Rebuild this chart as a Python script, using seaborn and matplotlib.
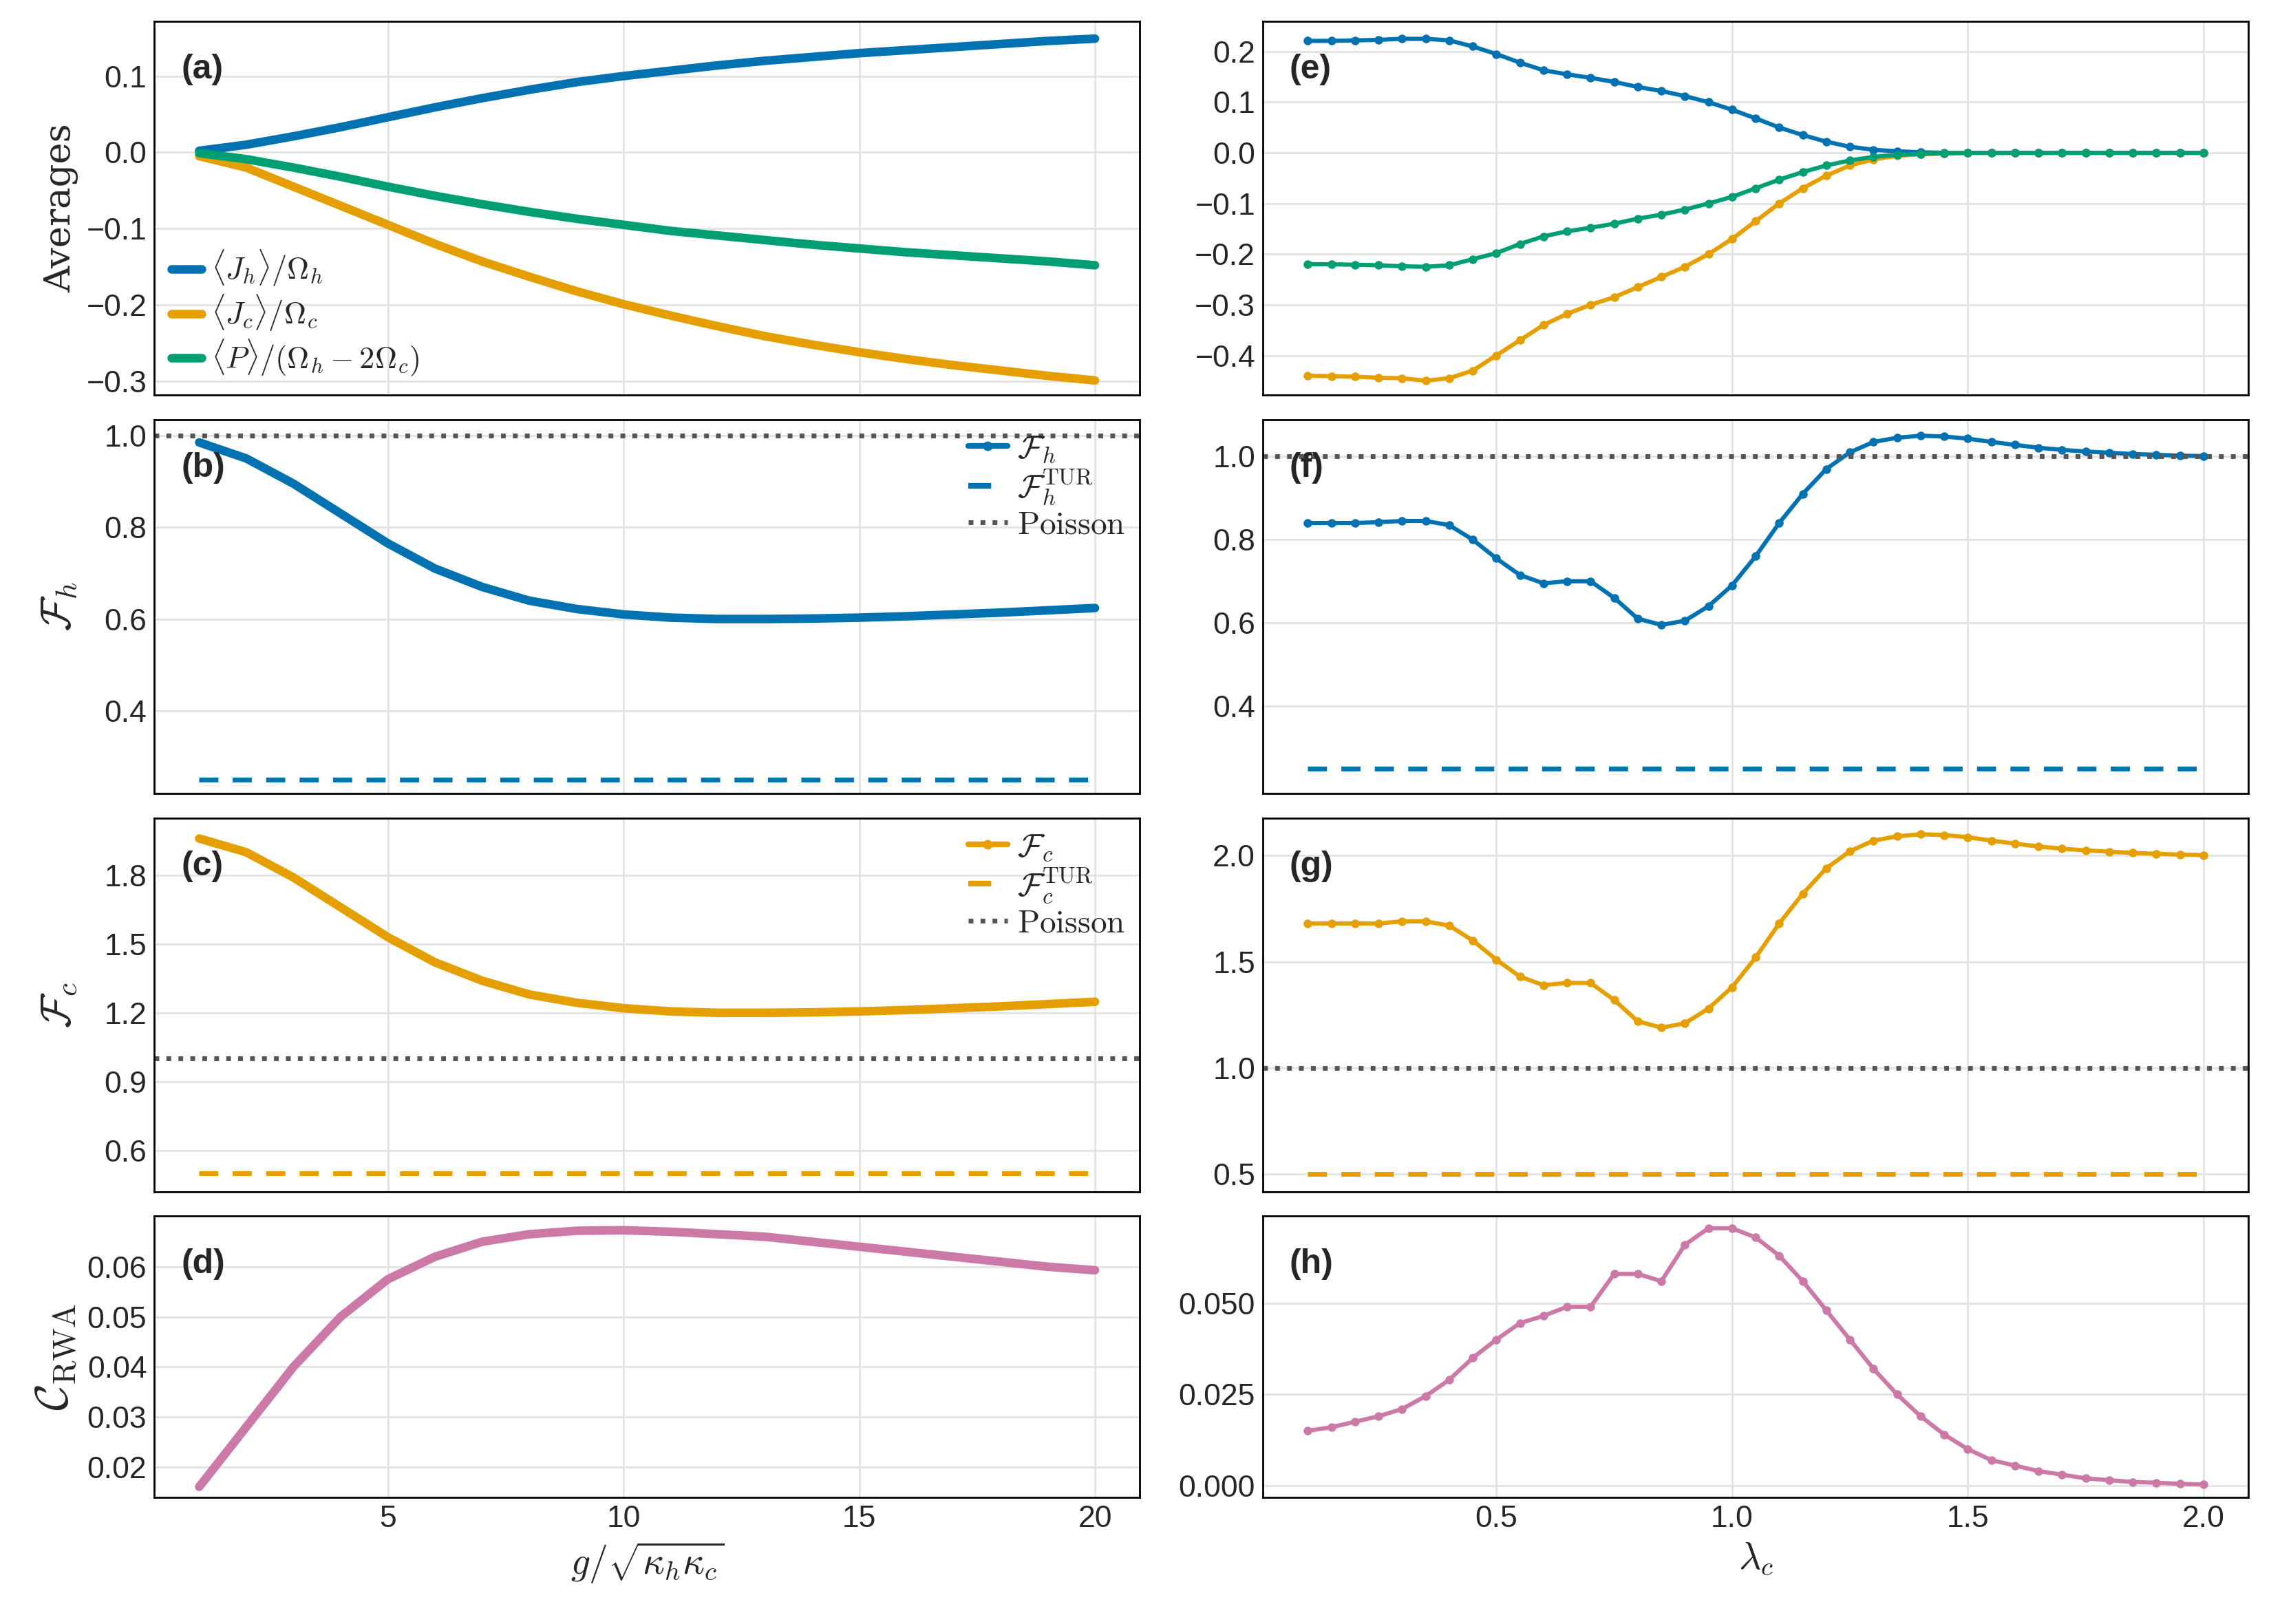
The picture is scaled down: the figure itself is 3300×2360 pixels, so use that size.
import numpy as np
import pandas as pd
import matplotlib
matplotlib.use("Agg")
import matplotlib.pyplot as plt
from matplotlib.lines import Line2D
import seaborn as sns

# left column: coupling g/sqrt(kh kc)
g_vals = list(range(1, 21))
jh_avg = [0.002, 0.010, 0.021, 0.033, 0.046, 0.059, 0.071, 0.082, 0.092, 0.100,
          0.107, 0.114, 0.120, 0.125, 0.130, 0.134, 0.138, 0.142, 0.146, 0.149]
jc_avg = [-0.005, -0.020, -0.045, -0.070, -0.095, -0.120, -0.143, -0.163, -0.182, -0.199,
          -0.214, -0.228, -0.241, -0.252, -0.262, -0.271, -0.279, -0.286, -0.293, -0.299]
p_avg = [-0.001, -0.009, -0.020, -0.032, -0.045, -0.057, -0.068, -0.078, -0.087, -0.095,
         -0.103, -0.109, -0.115, -0.121, -0.126, -0.131, -0.135, -0.139, -0.143, -0.148]
fano_h_g = [0.985, 0.950, 0.895, 0.830, 0.765, 0.710, 0.670, 0.640, 0.622, 0.610,
            0.603, 0.600, 0.600, 0.601, 0.603, 0.606, 0.610, 0.614, 0.619, 0.624]
fano_c_g = [1.960, 1.900, 1.790, 1.660, 1.530, 1.420, 1.340, 1.280, 1.244, 1.220,
            1.206, 1.200, 1.200, 1.202, 1.206, 1.212, 1.220, 1.228, 1.238, 1.248]
coh_g = [0.0160, 0.0280, 0.0400, 0.0500, 0.0575, 0.0620, 0.0650, 0.0665, 0.0672, 0.0673,
         0.0670, 0.0665, 0.0660, 0.0650, 0.0640, 0.0630, 0.0620, 0.0610, 0.0600, 0.0593]

# right column: lambda_c
lam = [0.10, 0.15, 0.20, 0.25, 0.30, 0.35, 0.40, 0.45, 0.50, 0.55, 0.60, 0.65, 0.70,
       0.75, 0.80, 0.85, 0.90, 0.95, 1.00, 1.05, 1.10, 1.15, 1.20, 1.25, 1.30, 1.35,
       1.40, 1.45, 1.50, 1.55, 1.60, 1.65, 1.70, 1.75, 1.80, 1.85, 1.90, 1.95, 2.00]
jh_lam = [0.221, 0.221, 0.222, 0.223, 0.225, 0.225, 0.222, 0.210, 0.195, 0.178, 0.163, 0.155, 0.148,
          0.140, 0.130, 0.122, 0.112, 0.100, 0.085, 0.068, 0.050, 0.035, 0.022, 0.012, 0.006, 0.003,
          0.001, 0.0, 0.0, 0.0, 0.0, 0.0, 0.0, 0.0, 0.0, 0.0, 0.0, 0.0, 0.0]
jc_lam = [-0.440, -0.441, -0.442, -0.444, -0.445, -0.450, -0.445, -0.430, -0.400, -0.370, -0.340, -0.318, -0.300,
          -0.285, -0.265, -0.245, -0.225, -0.200, -0.170, -0.135, -0.100, -0.070, -0.045, -0.025, -0.013, -0.006,
          -0.003, -0.001, 0.0, 0.0, 0.0, 0.0, 0.0, 0.0, 0.0, 0.0, 0.0, 0.0, 0.0]
p_lam = [-0.220, -0.220, -0.221, -0.222, -0.224, -0.225, -0.222, -0.210, -0.198, -0.180, -0.165, -0.155, -0.148,
         -0.140, -0.130, -0.122, -0.112, -0.100, -0.087, -0.070, -0.053, -0.038, -0.025, -0.015, -0.008, -0.004,
         -0.002, -0.001, 0.0, 0.0, 0.0, 0.0, 0.0, 0.0, 0.0, 0.0, 0.0, 0.0, 0.0]
fano_h_lam = [0.840, 0.840, 0.840, 0.842, 0.845, 0.845, 0.835, 0.800, 0.755, 0.715, 0.695, 0.700, 0.700,
              0.660, 0.610, 0.595, 0.605, 0.640, 0.690, 0.760, 0.840, 0.910, 0.970, 1.010, 1.035, 1.045,
              1.050, 1.048, 1.043, 1.035, 1.028, 1.021, 1.016, 1.012, 1.009, 1.006, 1.004, 1.002, 1.001]
fano_c_lam = [1.68, 1.68, 1.68, 1.68, 1.69, 1.69, 1.67, 1.60, 1.51, 1.43, 1.39, 1.40, 1.40,
              1.32, 1.22, 1.19, 1.21, 1.28, 1.38, 1.52, 1.68, 1.82, 1.94, 2.02, 2.07, 2.09,
              2.10, 2.096, 2.086, 2.07, 2.056, 2.042, 2.032, 2.024, 2.018, 2.012, 2.008, 2.004, 2.002]
coh_lam = [0.0150, 0.0160, 0.0175, 0.0190, 0.0210, 0.0245, 0.0290, 0.0350, 0.0400, 0.0445, 0.0465, 0.0490, 0.0490,
           0.0580, 0.0580, 0.0560, 0.0660, 0.0705, 0.0705, 0.0680, 0.0630, 0.0560, 0.0480, 0.0400, 0.0320, 0.0250,
           0.0190, 0.0140, 0.0100, 0.0070, 0.0055, 0.0040, 0.0030, 0.0020, 0.0015, 0.0010, 0.0008, 0.0005, 0.0003]

fano_h_tur = 0.25
fano_c_tur = 0.5

BLUE, ORANGE, GREEN, PINK = "#0072B2", "#E69F00", "#009E73", "#CC79A7"
GREY = "#555555"
DOT = (0, (1, 1.5))
DASH = (0, (4, 3))

sns.set_theme(style="whitegrid")
plt.rcParams['font.family'] = ['Liberation Sans', 'DejaVu Sans']
plt.rcParams['mathtext.fontset'] = 'cm'
plt.rcParams['axes.edgecolor'] = 'black'
plt.rcParams['axes.linewidth'] = 1.0
plt.rcParams['grid.color'] = '#e3e3e3'
plt.rcParams['xtick.labelsize'] = 16
plt.rcParams['ytick.labelsize'] = 16

fig, axes = plt.subplots(4, 2, figsize=(16.5, 11.8), dpi=200,
                         gridspec_kw=dict(height_ratios=[258, 258, 258, 194]))
fig.subplots_adjust(left=0.068, right=0.99, top=0.987, bottom=0.078, wspace=0.125, hspace=0.07)

left = dict(lw=4.5)
right = dict(lw=2.2, marker='o', markersize=4.5, markeredgewidth=0)


def tur_line(ax, x, val, color):
    sns.lineplot(x=[x[0], x[-1]], y=[val, val], ax=ax, color=color, lw=2.5, linestyle=DASH)


def fano_legend(ax, color, sub):
    h = [Line2D([], [], color=color, lw=3, marker='o', markersize=4),
         Line2D([], [], color=color, lw=3, linestyle=DASH),
         Line2D([], [], color=GREY, lw=2.5, linestyle=DOT)]
    ax.legend(h, [rf'$\mathcal{{F}}_{sub}$', rf'$\mathcal{{F}}_{sub}^{{\rm TUR}}$', r'$\rm Poisson$'],
              loc='upper right', frameon=False, fontsize=17, handlelength=1.2,
              handletextpad=0.3, labelspacing=0.1, borderaxespad=0.05)


# (a)
ax = axes[0, 0]
sns.lineplot(x=g_vals, y=jh_avg, ax=ax, color=BLUE, label=r'$\langle J_h\rangle/\Omega_h$', **left)
sns.lineplot(x=g_vals, y=jc_avg, ax=ax, color=ORANGE, label=r'$\langle J_c\rangle/\Omega_c$', **left)
sns.lineplot(x=g_vals, y=p_avg, ax=ax, color=GREEN, label=r'$\langle P\rangle/(\Omega_h-2\Omega_c)$', **left)
ax.set_ylim(-0.318, 0.172)
ax.set_ylabel('Averages', fontsize=19, family='DejaVu Serif')
ax.legend(loc='lower left', frameon=False, fontsize=16, handlelength=1.0,
          handletextpad=0.3, labelspacing=0.15, borderaxespad=0.15)

# (b)
ax = axes[1, 0]
sns.lineplot(x=g_vals, y=fano_h_g, ax=ax, color=BLUE, **left)
tur_line(ax, g_vals, fano_h_tur, BLUE)
ax.axhline(1.0, color=GREY, lw=2.5, linestyle=DOT)
ax.set_ylim(0.22, 1.035)
ax.set_yticks([0.4, 0.6, 0.8, 1.0])
ax.set_ylabel(r'$\mathcal{F}_h$', fontsize=22)
fano_legend(ax, BLUE, 'h')

# (c)
ax = axes[2, 0]
sns.lineplot(x=g_vals, y=fano_c_g, ax=ax, color=ORANGE, **left)
tur_line(ax, g_vals, fano_c_tur, ORANGE)
ax.axhline(1.0, color=GREY, lw=2.5, linestyle=DOT)
ax.set_ylim(0.42, 2.05)
ax.set_yticks([0.6, 0.9, 1.2, 1.5, 1.8])
ax.set_ylabel(r'$\mathcal{F}_c$', fontsize=22)
fano_legend(ax, ORANGE, 'c')

# (d)
ax = axes[3, 0]
sns.lineplot(x=g_vals, y=coh_g, ax=ax, color=PINK, **left)
ax.set_ylim(0.0139, 0.0701)
ax.set_yticks([0.02, 0.03, 0.04, 0.05, 0.06])
ax.set_ylabel(r'$\mathcal{C}_{\rm RWA}$', fontsize=24)
ax.set_xlabel(r'$g/\sqrt{\kappa_h\kappa_c}$', fontsize=20)

# (e)
ax = axes[0, 1]
sns.lineplot(x=lam, y=jh_lam, ax=ax, color=BLUE, **right)
sns.lineplot(x=lam, y=jc_lam, ax=ax, color=ORANGE, **right)
sns.lineplot(x=lam, y=p_lam, ax=ax, color=GREEN, **right)
ax.set_ylim(-0.478, 0.26)
ax.set_yticks([-0.4, -0.3, -0.2, -0.1, 0.0, 0.1, 0.2])

# (f)
ax = axes[1, 1]
sns.lineplot(x=lam, y=fano_h_lam, ax=ax, color=BLUE, **right)
tur_line(ax, lam, fano_h_tur, BLUE)
ax.axhline(1.0, color=GREY, lw=2.5, linestyle=DOT)
ax.set_ylim(0.19, 1.089)
ax.set_yticks([0.4, 0.6, 0.8, 1.0])

# (g)
ax = axes[2, 1]
sns.lineplot(x=lam, y=fano_c_lam, ax=ax, color=ORANGE, **right)
tur_line(ax, lam, fano_c_tur, ORANGE)
ax.axhline(1.0, color=GREY, lw=2.5, linestyle=DOT)
ax.set_ylim(0.418, 2.177)
ax.set_yticks([0.5, 1.0, 1.5, 2.0])

# (h)
ax = axes[3, 1]
sns.lineplot(x=lam, y=coh_lam, ax=ax, color=PINK, **right)
ax.set_ylim(-0.0032, 0.0738)
ax.set_yticks([0.0, 0.025, 0.05])
ax.set_yticklabels(['0.000', '0.025', '0.050'])
ax.set_xlabel(r'$\lambda_c$', fontsize=20)

tags = ['a', 'b', 'c', 'd', 'e', 'f', 'g', 'h']
for j in range(2):
    for i in range(4):
        ax = axes[i, j]
        if j == 0:
            ax.set_xlim(0.05, 20.95)
            ax.set_xticks([5, 10, 15, 20])
        else:
            ax.set_xlim(0.005, 2.095)
            ax.set_xticks([0.5, 1.0, 1.5, 2.0])
            ax.set_ylabel('')
        if i < 3:
            ax.set_xticklabels([])
            ax.set_xlabel('')
        ax.tick_params(axis='both', length=0, pad=4)
        yfrac = 0.87 if i < 3 else 0.83
        ax.text(0.027, yfrac, f'({tags[j * 4 + i]})', transform=ax.transAxes,
                fontsize=18, fontweight='bold', va='center', ha='left')
        for s in ax.spines.values():
            s.set_color('black')

fig.align_ylabels(axes[:, 0])
fig.savefig('out.png', dpi=200)
